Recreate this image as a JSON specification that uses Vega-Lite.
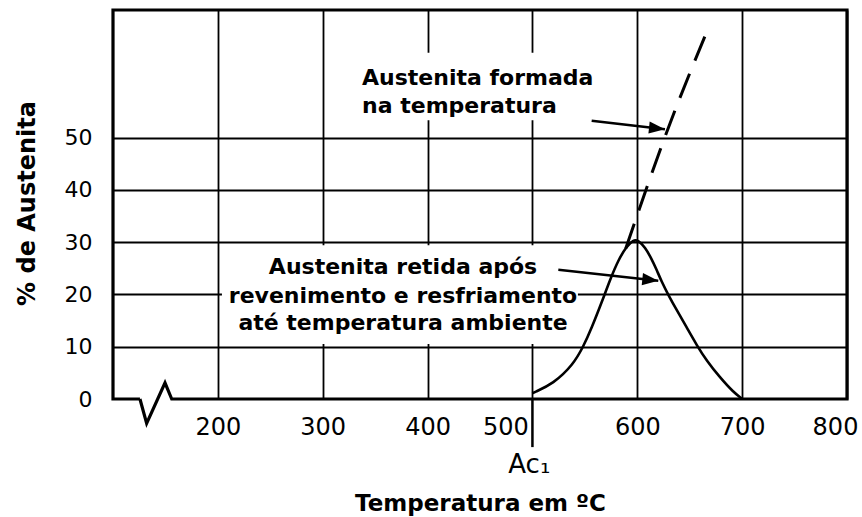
{
  "$schema": "https://vega.github.io/schema/vega-lite/v6.json",
  "width": 734,
  "height": 389,
  "autosize": "none",
  "padding": {"left": 113, "top": 10, "right": 15, "bottom": 118},
  "background": "white",
  "config": {"view": {"stroke": null}, "font": "DejaVu Sans"},
  "datasets": {
    "masks": [
      {"t": 203.9, "t2": 543.4, "v": 10.5, "v2": 29.4},
      {"t": 316.5, "t2": 588, "v": 53.3, "v2": 66.2}
    ],
    "frame": [
      {"t": 125.7, "v": 0, "o": 1},
      {"t": 100, "v": 0, "o": 2},
      {"t": 100, "v": 74.4, "o": 3},
      {"t": 800, "v": 74.4, "o": 4},
      {"t": 800, "v": 0, "o": 5},
      {"t": 156.0, "v": 0, "o": 6},
      {"t": 149.6, "v": 3.1, "o": 7},
      {"t": 132.1, "v": -4.65, "o": 8},
      {"t": 125.7, "v": 0, "o": 9}
    ],
    "ac1": [{"t": 500, "v": 0, "v2": -9.2}],
    "retained": [
      {"t": 500.0, "v": 1.1},
      {"t": 500.8, "v": 1.2},
      {"t": 519.9, "v": 2.9},
      {"t": 539.0, "v": 6.6},
      {"t": 548.5, "v": 10.0},
      {"t": 556.5, "v": 13.6},
      {"t": 566.1, "v": 18.5},
      {"t": 574.0, "v": 22.8},
      {"t": 581.9, "v": 26.6},
      {"t": 589.9, "v": 29.2},
      {"t": 596.0, "v": 30.4},
      {"t": 601.0, "v": 30.4},
      {"t": 607.4, "v": 29.0},
      {"t": 613.7, "v": 26.8},
      {"t": 618.5, "v": 24.7},
      {"t": 623.3, "v": 22.4},
      {"t": 629.6, "v": 19.9},
      {"t": 637.6, "v": 17.0},
      {"t": 647.1, "v": 13.7},
      {"t": 656.7, "v": 10.3},
      {"t": 666.2, "v": 7.3},
      {"t": 678.9, "v": 4.1},
      {"t": 691.6, "v": 1.3},
      {"t": 699.6, "v": 0.1},
      {"t": 700.0, "v": 0.0}
    ],
    "formed": [
      {"t": 589.0, "v": 28.8},
      {"t": 631.2, "v": 52.7},
      {"t": 667.7, "v": 70.9}
    ],
    "arrows": [
      {"t": 556.5, "v": 53.2, "t2": 626.4, "v2": 51.6},
      {"t": 524.7, "v": 24.7, "t2": 620.0, "v2": 22.6}
    ],
    "heads": [
      {"t": 626.4, "v": 51.6},
      {"t": 620.0, "v": 22.6}
    ],
    "notesLeft": [
      {"t": 337.5, "v": 60.06, "label": "Austenita formada"},
      {"t": 337.5, "v": 54.7, "label": "na temperatura"}
    ],
    "notesCenter": [
      {"t": 376.6, "v": 23.9, "label": "Austenita retida após"},
      {"t": 376.6, "v": 18.36, "label": "revenimento e resfriamento"},
      {"t": 376.6, "v": 13.2, "label": "até temperatura ambiente"}
    ],
    "acLabel": [{"t": 497, "v": -12.6, "label": "Ac₁"}]
  },
  "encoding": {
    "x": {
      "field": "t",
      "type": "quantitative",
      "scale": {"domain": [100, 800], "nice": false, "zero": false},
      "axis": {
        "values": [200, 300, 400, 500, 600, 700, 800],
        "title": "Temperatura em ºC",
        "domain": false,
        "ticks": false,
        "grid": true,
        "gridColor": "black",
        "gridWidth": 1.8,
        "labelFont": "DejaVu Sans",
        "labelFontSize": 24,
        "labelColor": "black",
        "labelPadding": 16,
        "labelFlush": false,
        "labelOverlap": false,
        "labelOffset": {
          "condition": [
            {"test": "datum.value == 500", "value": -27},
            {"test": "datum.value == 800", "value": -12}
          ],
          "value": 0
        },
        "titleFont": "DejaVu Sans",
        "titleFontWeight": "bold",
        "titleFontSize": 23,
        "titleColor": "black",
        "titleX": 367,
        "titleY": 104,
        "titleBaseline": "middle",
        "titleAlign": "center"
      }
    },
    "y": {
      "field": "v",
      "type": "quantitative",
      "scale": {"domain": [0, 74.4], "nice": false, "zero": false},
      "axis": {
        "values": [0, 10, 20, 30, 40, 50],
        "title": "% de Austenita",
        "domain": false,
        "ticks": false,
        "grid": true,
        "gridColor": "black",
        "gridWidth": 1.8,
        "gridOpacity": {"condition": {"test": "datum.value == 0", "value": 0}, "value": 1},
        "labelFont": "DejaVu Sans",
        "labelFontSize": 22,
        "labelColor": "black",
        "labelPadding": 21,
        "titleFont": "DejaVu Sans",
        "titleFontWeight": "bold",
        "titleFontSize": 24,
        "titleColor": "black",
        "titleX": -86,
        "titleY": 193,
        "titleAngle": -90,
        "titleBaseline": "middle",
        "titleAlign": "center"
      }
    }
  },
  "layer": [
    {
      "data": {"name": "masks"},
      "mark": {"type": "rect", "fill": "white", "stroke": null},
      "encoding": {"x2": {"field": "t2"}, "y2": {"field": "v2"}}
    },
    {
      "data": {"name": "frame"},
      "mark": {"type": "line", "color": "black", "strokeWidth": 3.2, "strokeJoin": "miter", "clip": false},
      "encoding": {"order": {"field": "o", "type": "quantitative"}}
    },
    {
      "data": {"name": "ac1"},
      "mark": {"type": "rule", "color": "black", "strokeWidth": 2.5},
      "encoding": {"y2": {"field": "v2"}}
    },
    {
      "data": {"name": "retained"},
      "mark": {"type": "line", "color": "black", "strokeWidth": 2.6, "interpolate": "basis"},
      "encoding": {}
    },
    {
      "data": {"name": "formed"},
      "mark": {"type": "line", "color": "black", "strokeWidth": 3, "strokeDash": [26, 14], "interpolate": "monotone"},
      "encoding": {}
    },
    {
      "data": {"name": "arrows"},
      "mark": {"type": "rule", "color": "black", "strokeWidth": 2.5},
      "encoding": {"x2": {"field": "t2"}, "y2": {"field": "v2"}}
    },
    {
      "data": {"name": "heads"},
      "mark": {"type": "point", "shape": "M0,0L-1,-0.38L-1,0.38Z", "size": 1024, "filled": true, "color": "black", "opacity": 1, "angle": 6},
      "encoding": {}
    },
    {
      "data": {"name": "notesLeft"},
      "mark": {"type": "text", "align": "left", "baseline": "alphabetic", "font": "DejaVu Sans", "fontWeight": "bold", "fontSize": 22, "color": "black"},
      "encoding": {"text": {"field": "label", "type": "nominal"}}
    },
    {
      "data": {"name": "notesCenter"},
      "mark": {"type": "text", "align": "center", "baseline": "alphabetic", "font": "DejaVu Sans", "fontWeight": "bold", "fontSize": 22, "color": "black"},
      "encoding": {"text": {"field": "label", "type": "nominal"}}
    },
    {
      "data": {"name": "acLabel"},
      "mark": {"type": "text", "align": "center", "baseline": "middle", "font": "DejaVu Sans", "fontSize": 26, "color": "black"},
      "encoding": {"text": {"field": "label", "type": "nominal"}}
    }
  ]
}
